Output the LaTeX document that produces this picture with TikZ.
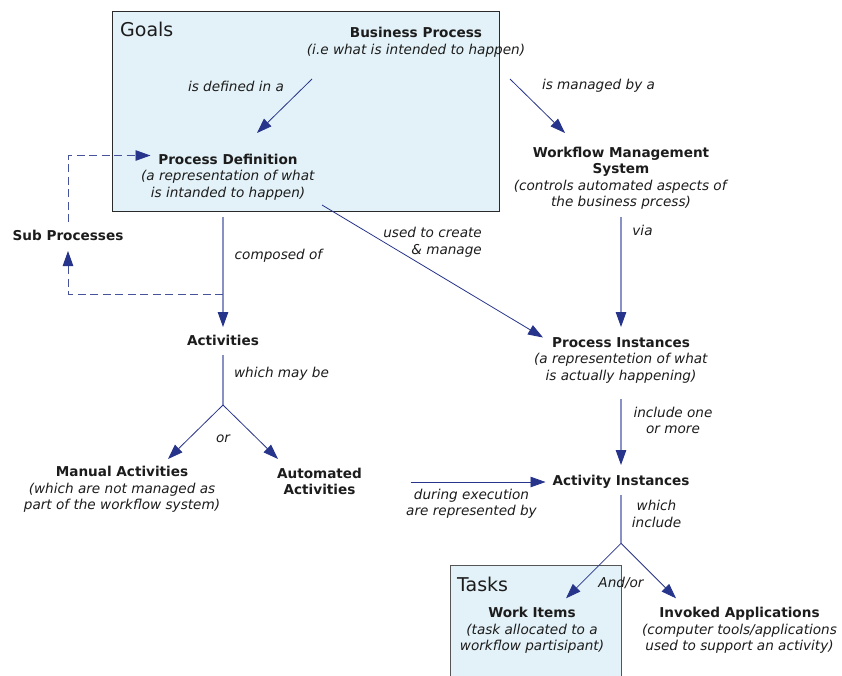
\documentclass[tikz,border=0pt]{standalone}
\usepackage{fontspec}
\setmainfont{DejaVu Sans}
\usetikzlibrary{arrows.meta}
\definecolor{navy}{HTML}{27348B}
\definecolor{navylight}{HTML}{8990C4}
\definecolor{boxfill}{HTML}{E3F2F8}
\definecolor{ink}{HTML}{1C1C1C}
\definecolor{boxline}{HTML}{2A2A2A}

\begin{document}
\begin{tikzpicture}[x=1pt,y=-1pt,
  txt/.style={text=ink, font=\fontsize{13.6}{16.5}\selectfont, align=center, inner sep=0pt},
  lbl/.style={txt, font=\fontsize{13.6}{16.5}\selectfont\itshape},
  title/.style={text=ink, font=\fontsize{19}{22}\selectfont, inner sep=0pt, anchor=base west},
  tip/.style={-{Triangle[length=15pt,width=10.5pt,color=navy]}},
  dline/.style={navy, line width=0.8pt},
  vline/.style={navylight, line width=1.1pt},
  dashline/.style={navy!85, line width=0.9pt, dash pattern=on 8pt off 4.5pt},
  area/.style={fill=boxfill}
]
\fill[white] (0,0) rectangle (842,675);
\useasboundingbox (0,0) rectangle (842,675);

% shaded areas
\draw[area, draw=boxline, line width=1pt] (112,11) rectangle (499,211);
\fill[boxfill] (450,565) rectangle (621,676);
\draw[draw=boxline!80, line width=1pt] (450,677) |- (621,565) -- (621,677);
\node[title] (goals) at (120,36) {Goals};
\node[title] (tasks) at (457,591) {Tasks};

% concepts
\node[txt] (bp) at (416,42) {\textbf{Business Process}\\\textit{(i.e what is intended to happen)}};
\node[txt] (pd) at (228,177) {\textbf{Process Definition}\\\textit{(a representation of what}\\\textit{is intanded to happen)}};
\node[txt] (wms) at (621,178) {\textbf{Workflow Management}\\\textbf{System}\\\textit{(controls automated aspects of}\\\textit{the business prcess)}};
\node[txt] (pi) at (621,360) {\textbf{Process Instances}\\\textit{(a representetion of what}\\\textit{is actually happening)}};
\node[txt] (ai) at (621,482) {\textbf{Activity Instances}};
\node[txt] (act) at (223,340) {\textbf{Activities}};
\node[txt] (sub) at (68,235) {\textbf{Sub Processes}};
\node[txt] (man) at (122,489.5) {\textbf{Manual Activities}\\\textit{(which are not managed as}\\\textit{part of the workflow system)}};
\node[txt] (auto) at (319.5,481.5) {\textbf{Automated}\\\textbf{Activities}};
\node[txt] (wi) at (532,630.5) {\textbf{Work Items}\\\textit{(task allocated to a}\\\textit{workflow partisipant)}};
\node[txt] (ia) at (739.5,630.5) {\textbf{Invoked Applications}\\\textit{(computer tools/applications}\\\textit{used to support an activity)}};

% relation labels
\node[lbl] (ldef) at (236,86) {is defined in a};
\node[lbl] (lman) at (598.5,86) {is managed by a};
\node[lbl] (lvia) at (642.5,230) {via};
\node[lbl] (lcomp) at (278.5,256) {composed of};
\node[lbl, align=right, anchor=east] (luse) at (482,242) {used to create\\\& manage};
\node[lbl] (lmay) at (281.5,374) {which may be};
\node[lbl] (lor) at (223,439) {or};
\node[lbl] (ldur) at (471.5,503.5) {during execution\\are represented by};
\node[lbl] (linc) at (673,420.5) {include one\\or more};
\node[lbl] (lwhich) at (656.5,514) {which\\include};
\node[lbl] (landor) at (621,583) {And/or};

% connector end points
\coordinate (bpL) at (312,79);   \coordinate (pdT) at (257,133);
\coordinate (bpR) at (510,79);   \coordinate (wmsT) at (565,133);
\coordinate (wmsB) at (621,217); \coordinate (piT) at (621,327);
\coordinate (pdR) at (322,205);  \coordinate (piL) at (543,337.5);
\coordinate (pdB) at (223,217);  \coordinate (actT) at (223,327);
\coordinate (fork) at (223,294); \coordinate (subB) at (68,251);
\coordinate (subT) at (68,222);  \coordinate (pdL) at (150.5,155.5);
\coordinate (actB) at (223,355); \coordinate (split1) at (223,405);
\coordinate (manT) at (168,459); \coordinate (autoT) at (278,459);
\coordinate (autoR) at (410.5,482); \coordinate (aiL) at (545.5,482);
\coordinate (piB) at (621,399);  \coordinate (aiT) at (621,465);
\coordinate (aiB) at (621,495);  \coordinate (split2) at (621,543.3);
\coordinate (wiT) at (566,598.3); \coordinate (iaT) at (676,598.3);

% connectors
\draw[dline, tip] (bpL) -- (pdT);
\draw[dline, tip] (bpR) -- (wmsT);
\draw[vline, tip] (wmsB) -- (piT);
\draw[dline, tip] (pdR) -- (piL);
\draw[vline, tip] (pdB) -- (actT);
\draw[dashline, tip] (fork) -| (subB);
\draw[dashline, tip] (subT) |- (pdL);
\draw[vline] (actB) -- (split1);
\draw[dline, tip] (split1) -- (manT);
\draw[dline, tip] (split1) -- (autoT);
\draw[dline, tip] (autoR) -- (aiL);
\draw[vline, tip] (piB) -- (aiT);
\draw[vline] (aiB) -- (split2);
\draw[dline, tip] (split2) -- (wiT);
\draw[dline, tip] (split2) -- (iaT);
\end{tikzpicture}
\end{document}
